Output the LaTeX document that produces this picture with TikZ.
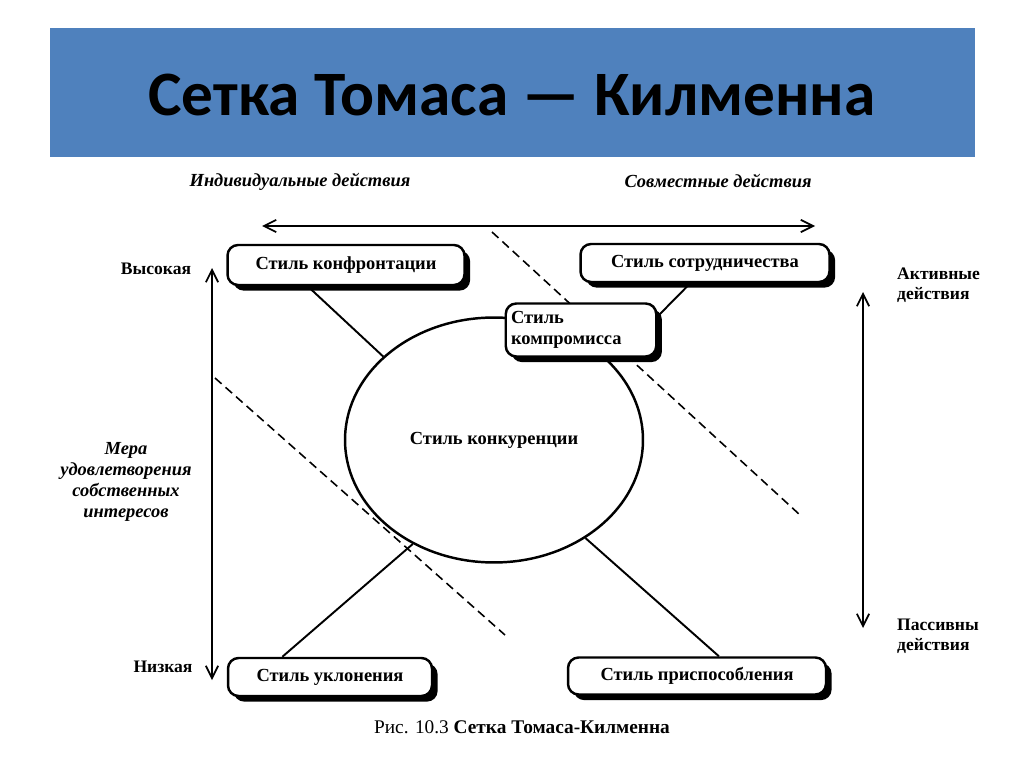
\documentclass[tikz,border=0pt]{standalone}
\usepackage{fontspec}
\setmainfont{Liberation Serif}
\newfontfamily\titlefont{Carlito}
\usetikzlibrary{arrows.meta}
\usetikzlibrary{shadows}
\usetikzlibrary{shapes.geometric}
\definecolor{bandblue}{RGB}{79,129,189}

\begin{document}
\begin{tikzpicture}[x=0.02cm,y=-0.02cm,
  stylebox/.style={draw=black,line width=1.4pt,rounded corners=6pt,fill=white,inner sep=3pt,
    font=\bfseries\fontsize{10.5}{12}\selectfont,
    drop shadow={shadow xshift=3.2pt,shadow yshift=-3.2pt,opacity=1,fill=black}},
  dirlabel/.style={font=\bfseries\itshape\fontsize{10.5}{12}\selectfont},
  sidelabel/.style={font=\bfseries\fontsize{10}{11.5}\selectfont,align=left},
  link/.style={line width=1.1pt},
  divide/.style={line width=0.9pt,dash pattern=on 5pt off 3pt},
  scalearrow/.style={line width=1pt,{Straight Barb[length=7pt,width=7pt]}-{Straight Barb[length=7pt,width=7pt]}}
]
\useasboundingbox (0,0) rectangle (1024,767);

\fill[bandblue] (50,28) rectangle (975,157);
\node[font=\titlefont\bfseries\fontsize{36}{40}\selectfont] (title) at (512,95) {Сетка Томаса — Килменна};

\coordinate (hl) at (262,226);
\coordinate (hr) at (815,226);
\coordinate (vt) at (212,268);
\coordinate (vb) at (212,680);
\coordinate (at) at (863,292);
\coordinate (ab) at (863,628);
\coordinate (d1a) at (492,232);
\coordinate (d1b) at (800,515);
\coordinate (d2a) at (215,378);
\coordinate (d2b) at (505,635);

\draw[divide] (d1a)--(d1b);
\draw[divide] (d2a)--(d2b);

\draw[scalearrow] (hl)--(hr);
\draw[scalearrow] (vt)--(vb);
\draw[scalearrow] (at)--(ab);

\node[dirlabel] (indiv) at (300,182) {Индивидуальные действия};
\node[dirlabel] (joint) at (718,181) {Совместные действия};
\node[sidelabel] (high) at (156,269) {Высокая};
\node[sidelabel] (low) at (163,667) {Низкая};
\node[dirlabel,align=center] (measure) at (126,482) {Мера\\удовлетворения\\собственных\\интересов};
\node[sidelabel,anchor=west] (active) at (891,285) {Активные\\действия};
\node[sidelabel,anchor=west] (passive) at (891,636) {Пассивны\\действия};

\node[ellipse,draw,line width=1.4pt,minimum width=5.96cm,minimum height=4.9cm,
  font=\bfseries\fontsize{10.5}{12}\selectfont] (rival) at (494,440) {Стиль конкуренции};

\node[stylebox,minimum width=4.74cm,minimum height=0.8cm] (confr) at (346,265) {Стиль конфронтации};
\node[stylebox,minimum width=4.98cm,minimum height=0.76cm] (coop) at (705,263) {Стиль сотрудничества};
\node[stylebox,minimum height=1.06cm,text width=2.8cm,align=left] (comp) at (581,330) {Стиль\\компромисса};
\node[stylebox,minimum width=4.08cm,minimum height=0.76cm] (avoid) at (330,677) {Стиль уклонения};
\node[stylebox,minimum width=5.16cm,minimum height=0.74cm] (accom) at (697,676) {Стиль приспособления};

\draw[link] (confr.209)--(rival.143);
\draw[link] (coop.234)--(comp.10);
\draw[link] (rival.232)--(avoid.157);
\draw[link] (rival.313)--(accom.42);

\node[font=\fontsize{11}{13}\selectfont] (caption) at (522,727) {Рис. 10.3 \textbf{Сетка Томаса-Килменна}};

\end{tikzpicture}
\end{document}
